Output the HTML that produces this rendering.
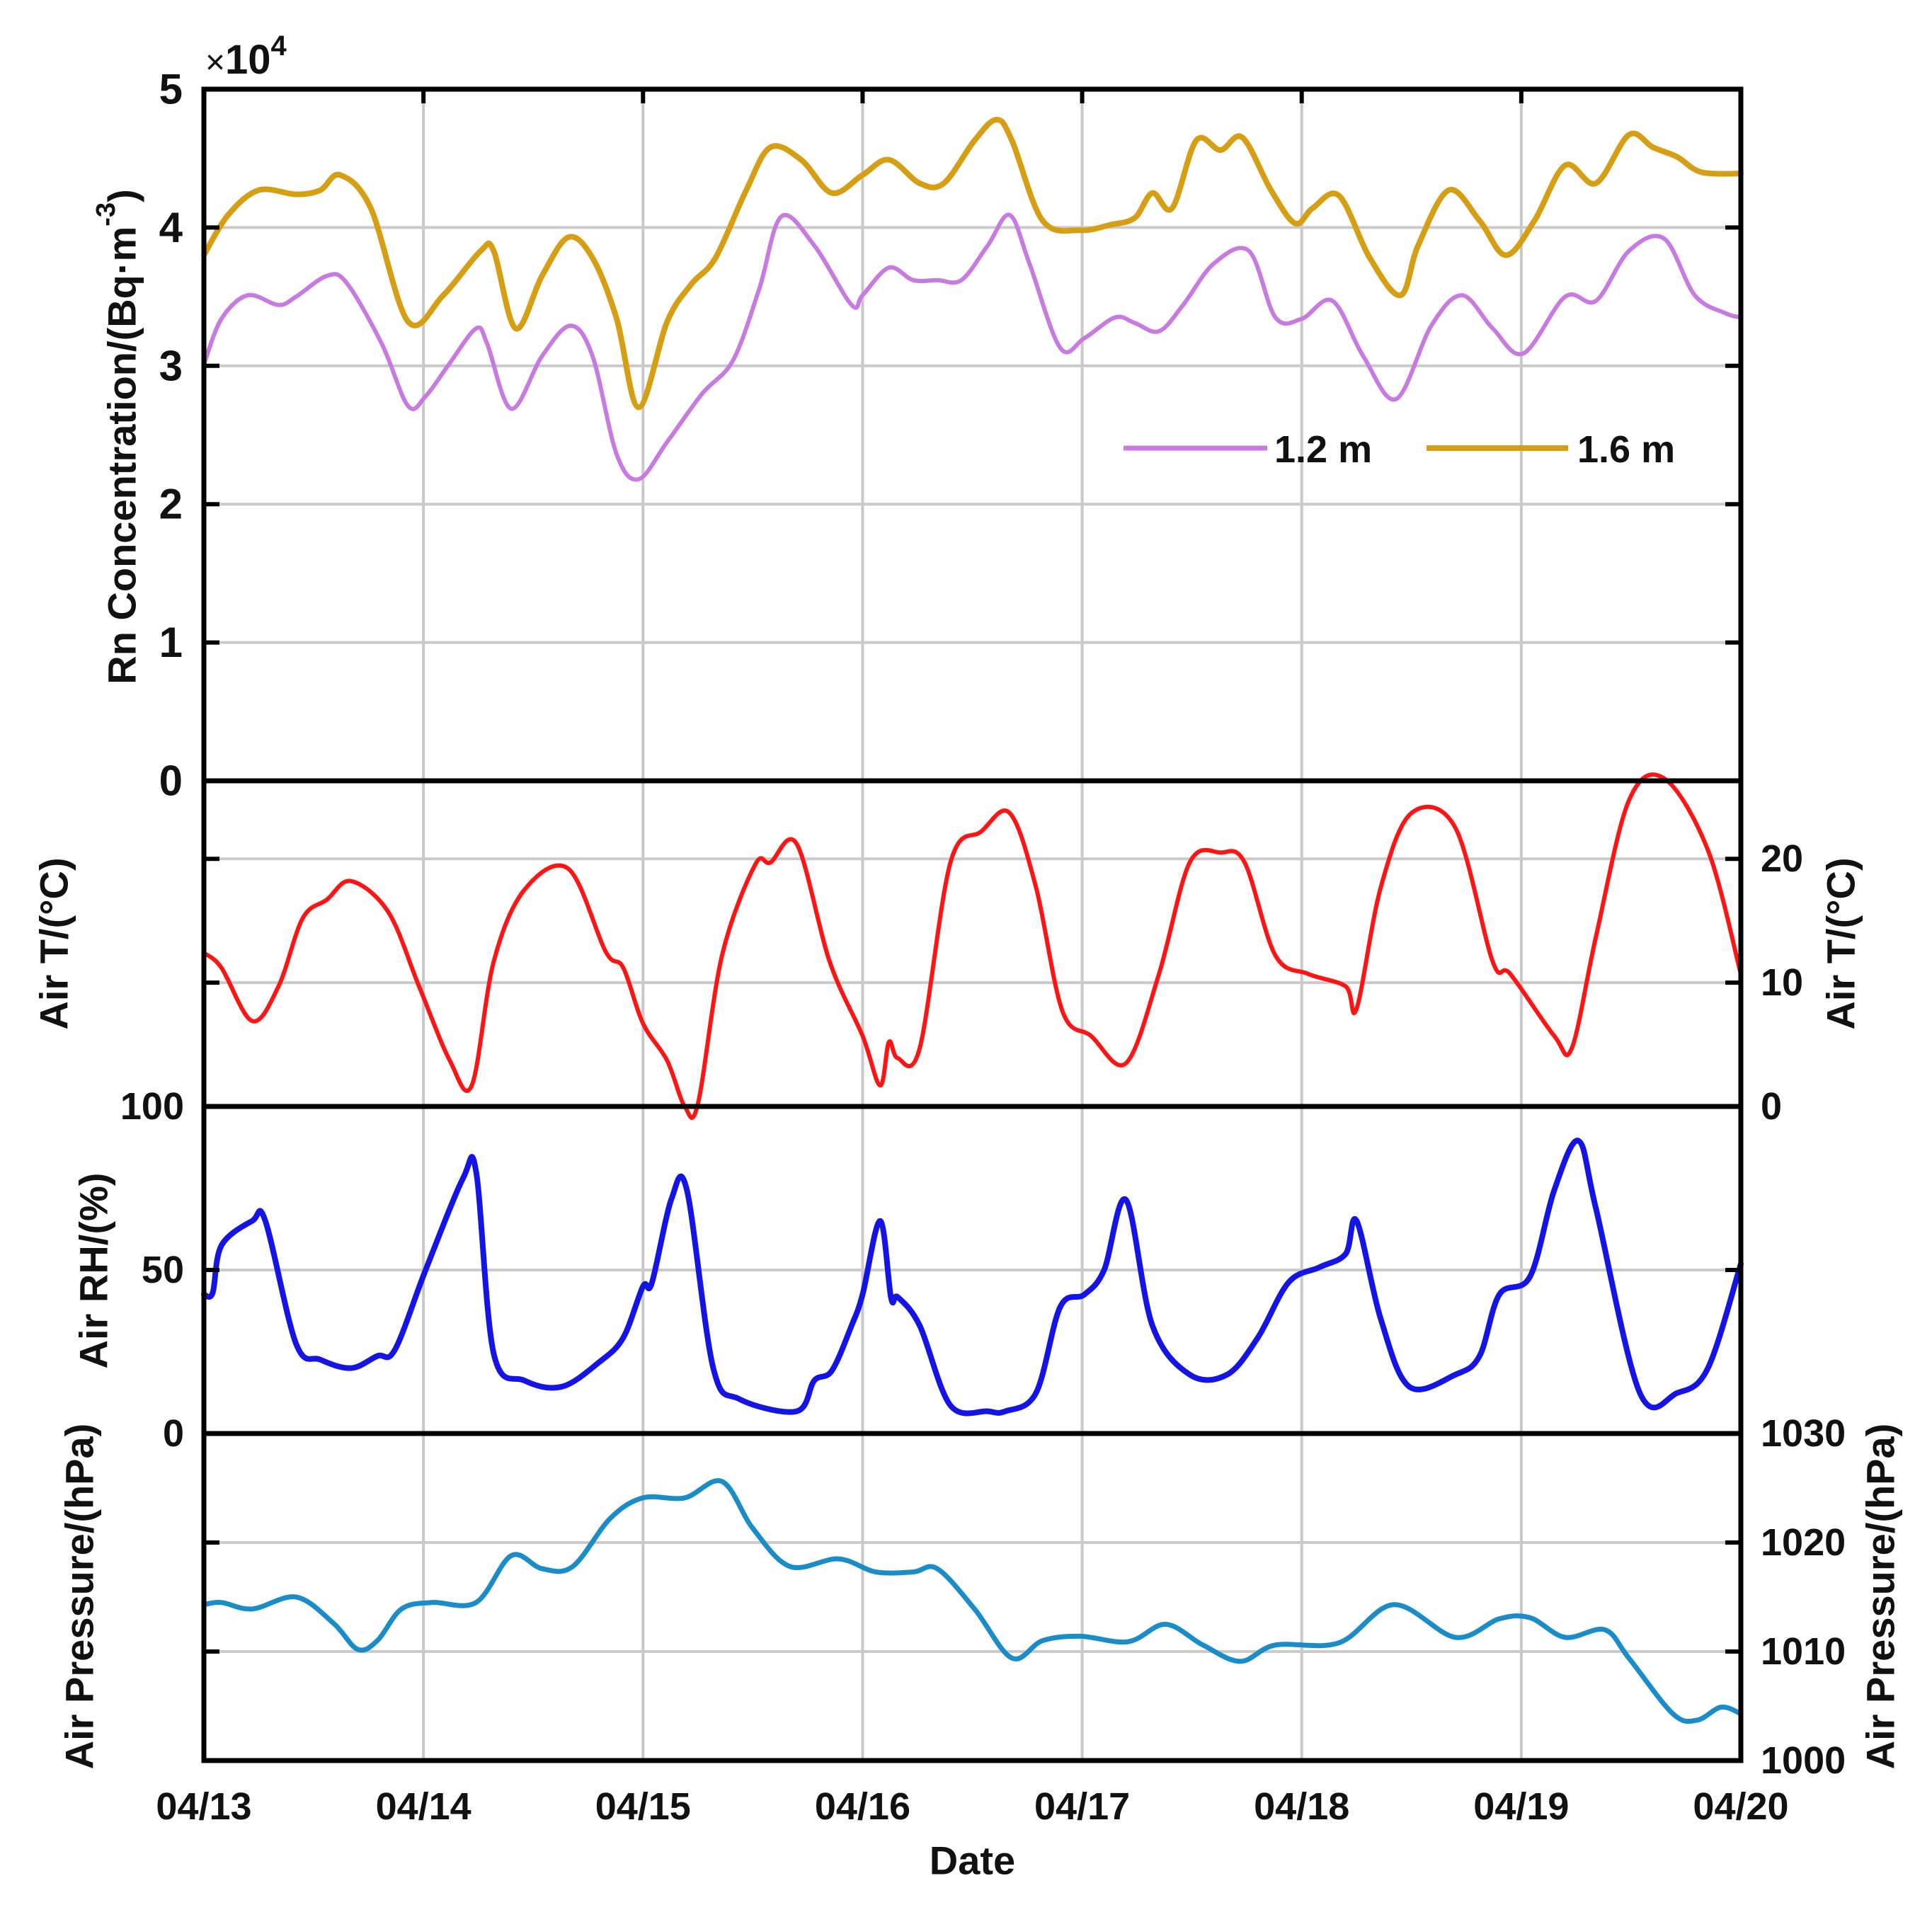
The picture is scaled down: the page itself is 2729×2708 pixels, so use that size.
<!DOCTYPE html>
<html><head><meta charset="utf-8"><style>
html,body{margin:0;padding:0;background:#fff}
svg text{font-family:"Liberation Sans",Arial,sans-serif;fill:#111;font-weight:bold}
</style></head><body>
<svg id="chart" width="2729" height="2703" viewBox="0 0 2729 2703" xmlns="http://www.w3.org/2000/svg">
<rect x="0" y="0" width="2729" height="2703" fill="#fff"/>
<g id="grid"></g><g id="series"></g><g id="axes"></g><g id="labels"></g>
</svg>
<script>
// ---- data ----
const dayLabels = ["04/13","04/14","04/15","04/16","04/17","04/18","04/19","04/20"];
const rnTicks = [0,1,2,3,4,5];
const tTicks = [0,10,20];
const rhTicks = [0,50,100];
const pTicks = [1000,1010,1020,1030];

const rn16Days = [0,0.11,0.25,0.42,0.53,0.62,0.76,0.93,1.09,1.26,1.32,1.42,1.54,1.66,1.77,1.88,1.98,2.11,2.22,2.33,2.47,2.58,2.72,2.86,3.0,3.12,3.26,3.37,3.51,3.61,3.68,3.82,3.99,4.13,4.24,4.32,4.41,4.52,4.63,4.73,4.86,4.97,5.05,5.17,5.31,5.45,5.53,5.67,5.81,5.93,6.06,6.2,6.34,6.49,6.6,6.71,6.82,7.0];
const rn16Vals = [3.80,4.09,4.27,4.24,4.27,4.38,4.14,3.32,3.51,3.83,3.83,3.27,3.65,3.93,3.78,3.34,2.70,3.32,3.59,3.78,4.27,4.58,4.49,4.25,4.38,4.49,4.32,4.32,4.63,4.78,4.63,4.05,3.98,4.02,4.07,4.25,4.14,4.63,4.56,4.65,4.27,4.03,4.14,4.23,3.78,3.51,3.87,4.27,4.05,3.80,4.05,4.45,4.32,4.67,4.58,4.51,4.40,4.39];
const rn12Days = [0,0.08,0.2,0.34,0.42,0.56,0.65,0.81,0.93,1.01,1.12,1.24,1.29,1.4,1.54,1.67,1.77,1.88,1.98,2.11,2.27,2.41,2.53,2.63,2.78,2.95,3.0,3.12,3.23,3.34,3.45,3.57,3.67,3.76,3.9,4.01,4.15,4.24,4.35,4.46,4.6,4.76,4.88,5.0,5.14,5.28,5.43,5.59,5.73,5.87,6.01,6.2,6.34,6.49,6.65,6.79,6.93,7.0];
const rn12Vals = [3.01,3.34,3.51,3.44,3.50,3.65,3.60,3.16,2.71,2.78,3.02,3.27,3.16,2.69,3.07,3.29,3.07,2.36,2.18,2.45,2.80,3.04,3.56,4.08,3.87,3.44,3.51,3.71,3.62,3.62,3.62,3.87,4.09,3.74,3.13,3.20,3.35,3.31,3.25,3.44,3.74,3.83,3.35,3.34,3.47,3.07,2.76,3.29,3.51,3.27,3.09,3.50,3.47,3.83,3.92,3.51,3.38,3.35];
const tDays = [0,0.08,0.22,0.34,0.45,0.56,0.67,0.84,0.98,1.12,1.22,1.32,1.46,1.66,1.83,1.91,2.0,2.11,2.19,2.25,2.36,2.51,2.58,2.7,2.85,3.0,3.08,3.12,3.16,3.26,3.4,3.54,3.67,3.79,3.91,4.04,4.2,4.35,4.49,4.63,4.74,4.88,5.03,5.2,5.25,5.36,5.5,5.7,5.87,5.95,6.15,6.23,6.34,6.49,6.65,6.85,7.0];
const tVals = [12.4,11.2,6.9,9.7,15.2,16.7,18.2,15.7,9.7,3.7,1.7,11.7,17.5,19.2,12.5,11.2,6.7,3.7,0.0,0.2,12.2,19.5,19.7,21.2,11.7,5.7,1.7,5.2,3.9,4.7,19.7,22.2,23.7,17.7,7.7,5.7,3.5,10.7,19.7,20.5,19.7,12.2,10.7,9.7,7.9,17.7,23.7,22.5,11.7,10.7,5.7,4.7,13.7,24.7,26.5,20.7,10.7];
const rhDays = [0,0.04,0.08,0.22,0.28,0.42,0.53,0.67,0.79,0.87,1.01,1.18,1.24,1.32,1.46,1.63,1.8,1.91,2.0,2.04,2.13,2.2,2.32,2.44,2.7,2.78,2.86,2.95,3.0,3.08,3.13,3.16,3.26,3.4,3.57,3.65,3.79,3.9,4.01,4.1,4.2,4.32,4.49,4.66,4.8,4.94,5.08,5.2,5.25,5.36,5.49,5.7,5.81,5.9,6.04,6.15,6.26,6.34,6.54,6.71,6.85,7.0];
const rhVals = [42.5,43,57.5,65,65,27.4,22.6,20,23.7,25.6,50,78,80,24.4,16.2,14.3,21.8,29.3,45,46,71.8,74.4,20,10.5,6.8,16.2,19.2,33,42.5,65,41.4,41.7,33,8.6,6.8,6.8,12.4,38.7,42.5,50,71.4,33,18,18,29.3,46.2,50.8,54.9,65,35,14.3,18,23.7,42.5,48,74.4,89.5,68.8,12.4,12.4,20,51.9];
const pDays = [0,0.08,0.22,0.42,0.59,0.7,0.79,0.9,1.04,1.24,1.4,1.54,1.68,1.85,2.0,2.19,2.36,2.5,2.67,2.89,3.06,3.23,3.34,3.51,3.68,3.82,3.99,4.21,4.38,4.55,4.72,4.88,5.17,5.42,5.7,5.9,6.04,6.2,6.38,6.49,6.69,6.8,6.91,7.0];
const pVals = [1014.3,1014.5,1013.9,1015.0,1012.6,1010.2,1011.0,1013.9,1014.5,1014.5,1018.8,1017.6,1017.8,1022.2,1024.1,1024.1,1025.6,1021.3,1017.8,1018.5,1017.3,1017.3,1017.6,1013.9,1009.4,1011.0,1011.4,1010.9,1012.5,1010.6,1009.1,1010.6,1010.8,1014.3,1011.3,1013.0,1013.1,1011.3,1012.0,1009.4,1004.3,1003.7,1004.9,1004.3];

// ---- layout ----
const L=288,R=2459;
const P=[{t:126,b:1103,min:0,max:5},{t:1103,b:1563,min:0,max:26.3},{t:1563,b:2025,min:0,max:100},{t:2025,b:2487,min:1000,max:1030}];
const NS="http://www.w3.org/2000/svg";
const X=d=>L+d*(R-L)/7;
const Y=(i,v)=>P[i].b-(v-P[i].min)/(P[i].max-P[i].min)*(P[i].b-P[i].t);
function mk(tag,attrs,parent,text){const e=document.createElementNS(NS,tag);for(const k in attrs)e.setAttribute(k,attrs[k]);if(text!==undefined)e.textContent=text;document.getElementById(parent).appendChild(e);return e;}
function smooth(pts){let d="M"+pts[0][0].toFixed(1)+","+pts[0][1].toFixed(1);
 for(let i=0;i<pts.length-1;i++){const p0=pts[Math.max(0,i-1)],p1=pts[i],p2=pts[i+1],p3=pts[Math.min(pts.length-1,i+2)];
  const c1=[p1[0]+(p2[0]-p0[0])/6,p1[1]+(p2[1]-p0[1])/6],c2=[p2[0]-(p3[0]-p1[0])/6,p2[1]-(p3[1]-p1[1])/6];
  d+=" C"+c1[0].toFixed(1)+","+c1[1].toFixed(1)+" "+c2[0].toFixed(1)+","+c2[1].toFixed(1)+" "+p2[0].toFixed(1)+","+p2[1].toFixed(1);}
 return d;}

// grid
for(let k=1;k<7;k++){const g=mk("line",{x1:X(k),x2:X(k),y1:P[0].t,y2:P[3].b,stroke:"#c8c8c8","stroke-width":4},"grid");

}
const hg=[[0,rnTicks],[1,tTicks],[2,rhTicks],[3,pTicks]];
hg.forEach(([i,ts])=>ts.forEach(v=>{const y=Y(i,v);if(y<=P[i].t+2||y>=P[i].b-2)return;
 const g=mk("line",{x1:L,x2:R,y1:y,y2:y,stroke:"#cacaca","stroke-width":4},"grid");
 
 
 const t1=mk("line",{x1:L,x2:L+22,y1:y,y2:y,stroke:"#000","stroke-width":6},"axes");
 
 
 const t2=mk("line",{x1:R-22,x2:R,y1:y,y2:y,stroke:"#000","stroke-width":6},"axes");
 
 }));
for(let k=1;k<7;k++){const t=mk("line",{x1:X(k),x2:X(k),y1:P[0].t,y2:P[0].t+20,stroke:"#000","stroke-width":6},"axes");

}

// series
function series(i,days,vals,color,w,name){const pts=days.map((d,j)=>[X(d),Y(i,vals[j])]);
 const p=mk("path",{d:smooth(pts),fill:"none",stroke:color,"stroke-width":w,"stroke-linejoin":"round","stroke-linecap":"round"},"series");
 
 }
series(0,rn16Days,rn16Vals,"#d69e12",8,"rn-1-6m-line");
series(0,rn12Days,rn12Vals,"#c77ae0",6,"rn-1-2m-line");
series(1,tDays,tVals,"#ff1414",6,"air-temperature-line");
series(2,rhDays,rhVals,"#1414e6",8,"air-rh-line");
series(3,pDays,pVals,"#1a8cc8",7,"air-pressure-line");

// axes frames
P.forEach((p,i)=>{const r=mk("rect",{x:L,y:p.t,width:R-L,height:p.b-p.t,fill:"none",stroke:"#000","stroke-width":7},"axes");
 
 });

// tick labels
function lbl(x,y,s,anchor,name,size){const t=mk("text",{x:x,y:y,"text-anchor":anchor||"middle","dominant-baseline":"central","font-size":size||54},"labels",s);
 
 return t;}
rnTicks.forEach(v=>lbl(L-30,Y(0,v),String(v),"end","rn-tick-label",60));
tTicks.forEach(v=>lbl(R+28,Y(1,v),String(v),"start","air-t-tick-label"));
rhTicks.forEach(v=>lbl(L-28,Y(2,v),String(v),"end","air-rh-tick-label"));
pTicks.forEach(v=>lbl(R+28,Y(3,v),String(v),"start","air-pressure-tick-label"));
dayLabels.forEach((s,k)=>lbl(X(k),2552,s,"middle","x-tick-label"));
lbl((L+R)/2,2628,"Date","middle","x-axis-title",56);
const ex=mk("text",{x:290,y:104,"font-size":58},"labels");


ex.innerHTML='<tspan font-size="48" font-weight="normal">×</tspan>10<tspan dy="-26" font-size="40">4</tspan>';

function vt(x,y,s,name){const t=mk("text",{x:0,y:0,"text-anchor":"middle","dominant-baseline":"central","font-size":56,transform:"translate("+x+","+y+") rotate(-90)"},"labels");
 
 t.innerHTML=s;return t;}
vt(172,617,'Rn Concentration/(Bq·m<tspan dy="-22" font-size="38">-3</tspan><tspan dy="22">)</tspan>',"rn-y-axis-title");
vt(76,1333,"Air T/(°C)","air-t-left-title");
vt(2600,1333,"Air T/(°C)","air-t-right-title");
vt(132,1795,"Air RH/(%)","air-rh-title");
vt(112,2255,"Air Pressure/(hPa)","air-pressure-left-title");
vt(2656,2255,"Air Pressure/(hPa)","air-pressure-right-title");

// legend
const l1=mk("line",{x1:1587,x2:1790,y1:633,y2:633,stroke:"#c77ae0","stroke-width":7},"labels");


lbl(1800,635,"1.2 m","start","legend-1-2m-label",54);
const l2=mk("line",{x1:2015,x2:2215,y1:633,y2:633,stroke:"#d69e12","stroke-width":8},"labels");


lbl(2228,635,"1.6 m","start","legend-1-6m-label",54);
</script>
</body></html>
